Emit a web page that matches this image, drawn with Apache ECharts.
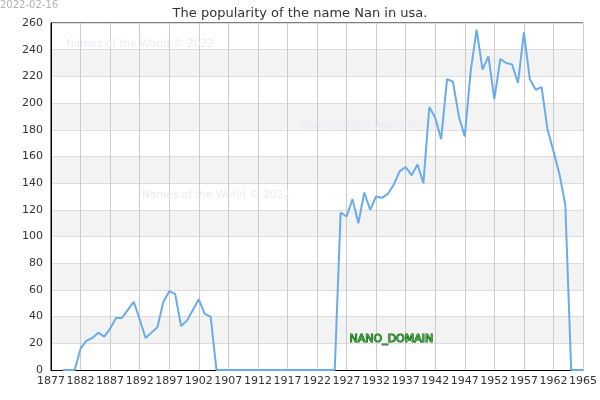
<!DOCTYPE html>
<html>
<head>
<meta charset="utf-8">
<script src="https://cdn.jsdelivr.net/npm/echarts@6/dist/echarts.min.js"></script>
<style>
html, body { margin: 0; padding: 0; background: #fff; }
#main { width: 600px; height: 400px; }
</style>
</head>
<body>
<div id="main"></div>
<script>
// data
var years = [1879, 1880, 1881, 1882, 1883, 1884, 1885, 1886, 1887, 1888,
    1889, 1890, 1891, 1892, 1893, 1894, 1895, 1896, 1897, 1898,
    1899, 1900, 1901, 1902, 1903, 1904, 1905, 1906, 1907, 1908,
    1909, 1910, 1911, 1912, 1913, 1914, 1915, 1916, 1917, 1918,
    1919, 1920, 1921, 1922, 1923, 1924, 1925, 1926, 1927, 1928,
    1929, 1930, 1931, 1932, 1933, 1934, 1935, 1936, 1937, 1938,
    1939, 1940, 1941, 1942, 1943, 1944, 1945, 1946, 1947, 1948,
    1949, 1950, 1951, 1952, 1953, 1954, 1955, 1956, 1957, 1958,
    1959, 1960, 1961, 1962, 1963, 1964, 1965, 1966, 1967];
var counts = [0, 0, 0, 16, 22, 24, 28, 25, 31, 39,
    39, 45, 51, 38, 24, 28, 32, 51, 59, 57,
    33, 37, 45, 53, 42, 40, 0, 0, 0, 0,
    0, 0, 0, 0, 0, 0, 0, 0, 0, 0,
    0, 0, 0, 0, 0, 0, 0, 118, 115, 128,
    110, 133, 120, 130, 129, 132, 139, 149, 152, 146,
    154, 140, 197, 189, 173, 218, 216, 190, 175, 224,
    255, 225, 235, 203, 233, 230, 229, 215, 253, 218,
    210, 212, 180, 164, 147, 124, 0, 0, 0];
var xTickLabels = ['1877', '1882', '1887', '1892', '1897', '1902', '1907', '1912', '1917',
    '1922', '1927', '1932', '1937', '1942', '1947', '1952', '1957', '1962', '1965'];
var yTicks = [0, 20, 40, 60, 80, 100, 120, 140, 160, 180, 200, 220, 240, 260];

var FONT = 'DejaVu Sans';

var seriesData = [];
for (var i = 0; i < years.length; i++) {
    seriesData.push([years[i], counts[i]]);
}

// faint watermark text, under the line
function wm(x, y) {
    return {
        type: 'text', left: x, top: y, silent: true, z: 1,
        style: { text: 'Names of the World \u00a9 2022', fill: '#ebebf8', font: '10.5px ' + FONT }
    };
}

var chart = echarts.init(document.getElementById('main'), null, { renderer: 'canvas' });
var option = {
    animation: false,
    backgroundColor: '#fff',
    title: {
        text: 'The popularity of the name Nan in usa.',
        left: 'center', top: 2,
        textStyle: { fontFamily: FONT, fontSize: 13, fontWeight: 'normal', color: '#333' }
    },
    grid: {
        left: 51, right: 15, top: 23, bottom: 30,
        show: true, borderColor: '#000', borderWidth: 1
    },
    xAxis: {
        type: 'value',
        min: 1877, max: 1967, interval: 5,
        axisLine: { lineStyle: { color: '#000', width: 1 } },
        axisTick: { show: false },
        axisLabel: {
            fontFamily: FONT, fontSize: 11, color: '#333', margin: 6,
            showMinLabel: true, showMaxLabel: true,
            formatter: function (v) {
                return xTickLabels[Math.round((v - 1877) / 5)];
            }
        },
        splitLine: { show: true, lineStyle: { color: '#cccccc', width: 1 } }
    },
    yAxis: {
        type: 'value',
        min: yTicks[0], max: yTicks[yTicks.length - 1], interval: 20,
        axisLine: { show: true, lineStyle: { color: '#000', width: 1 } },
        axisTick: { show: false },
        axisLabel: { fontFamily: FONT, fontSize: 11, color: '#333', margin: 8 },
        splitLine: { show: true, lineStyle: { color: '#dddddd', width: 1 } },
        splitArea: { show: true, areaStyle: { color: ['#ffffff', '#f3f3f3'] } }
    },
    series: [{
        type: 'line',
        data: seriesData,
        showSymbol: false,
        lineStyle: { color: '#68acee', width: 2 },
        itemStyle: { color: '#68acee' },
        z: 5
    }],
    graphic: [
        {
            type: 'text', left: 0, top: 0, z: 100,
            style: { text: '2022-02-16', fill: '#b4b4b4', font: '10px ' + FONT }
        },
        wm(66, 39),
        wm(300, 121),
        wm(142, 190),
        {
            type: 'text', left: 349, top: 333, z: 100,
            style: {
                text: 'NANO_DOMAIN', fill: '#3cb83c', stroke: '#0d4d0d', lineWidth: 1,
                font: '11px ' + FONT
            }
        }
    ]
};
chart.setOption(option);
</script>
</body>
</html>
